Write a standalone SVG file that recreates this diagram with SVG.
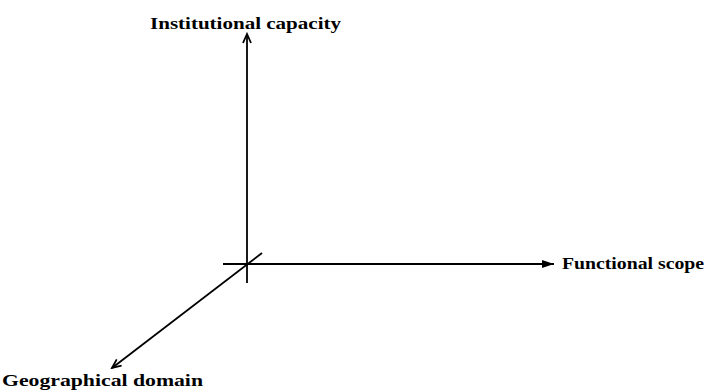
<svg xmlns="http://www.w3.org/2000/svg" width="706" height="390" viewBox="0 0 706 390">
<defs>
<marker id="ah" markerWidth="12" markerHeight="12" refX="10" refY="5" orient="auto" markerUnits="userSpaceOnUse">
<path d="M1,1 L10,5 L1,9" fill="none" stroke="#000" stroke-width="1.8"/>
</marker>
<marker id="ahf" markerWidth="14" markerHeight="12" refX="12" refY="5" orient="auto" markerUnits="userSpaceOnUse">
<path d="M0,1 L12,5 L0,9 Z" fill="#000"/>
</marker>
<style>
.ax{stroke:#000;stroke-width:1.8;fill:none}
.lb{font-family:"Liberation Serif",serif;font-weight:bold;font-size:16px;fill:#000}
</style>
</defs>
<rect width="706" height="390" fill="#fff"/>
<g id="connectors">
<line class="ax" x1="247" y1="283" x2="247" y2="34" marker-end="url(#ah)"/>
<line class="ax" x1="223" y1="264" x2="554" y2="264" marker-end="url(#ahf)"/>
<line class="ax" x1="262" y1="253" x2="112" y2="368" marker-end="url(#ah)"/>
</g>
<g id="institutional"><text class="lb" x="150" y="29" textLength="191" lengthAdjust="spacingAndGlyphs">Institutional capacity</text></g>
<g id="functional"><text class="lb" x="562" y="269" textLength="142" lengthAdjust="spacingAndGlyphs">Functional scope</text></g>
<g id="geographical"><text class="lb" x="2" y="386" textLength="201" lengthAdjust="spacingAndGlyphs">Geographical domain</text></g>
</svg>
